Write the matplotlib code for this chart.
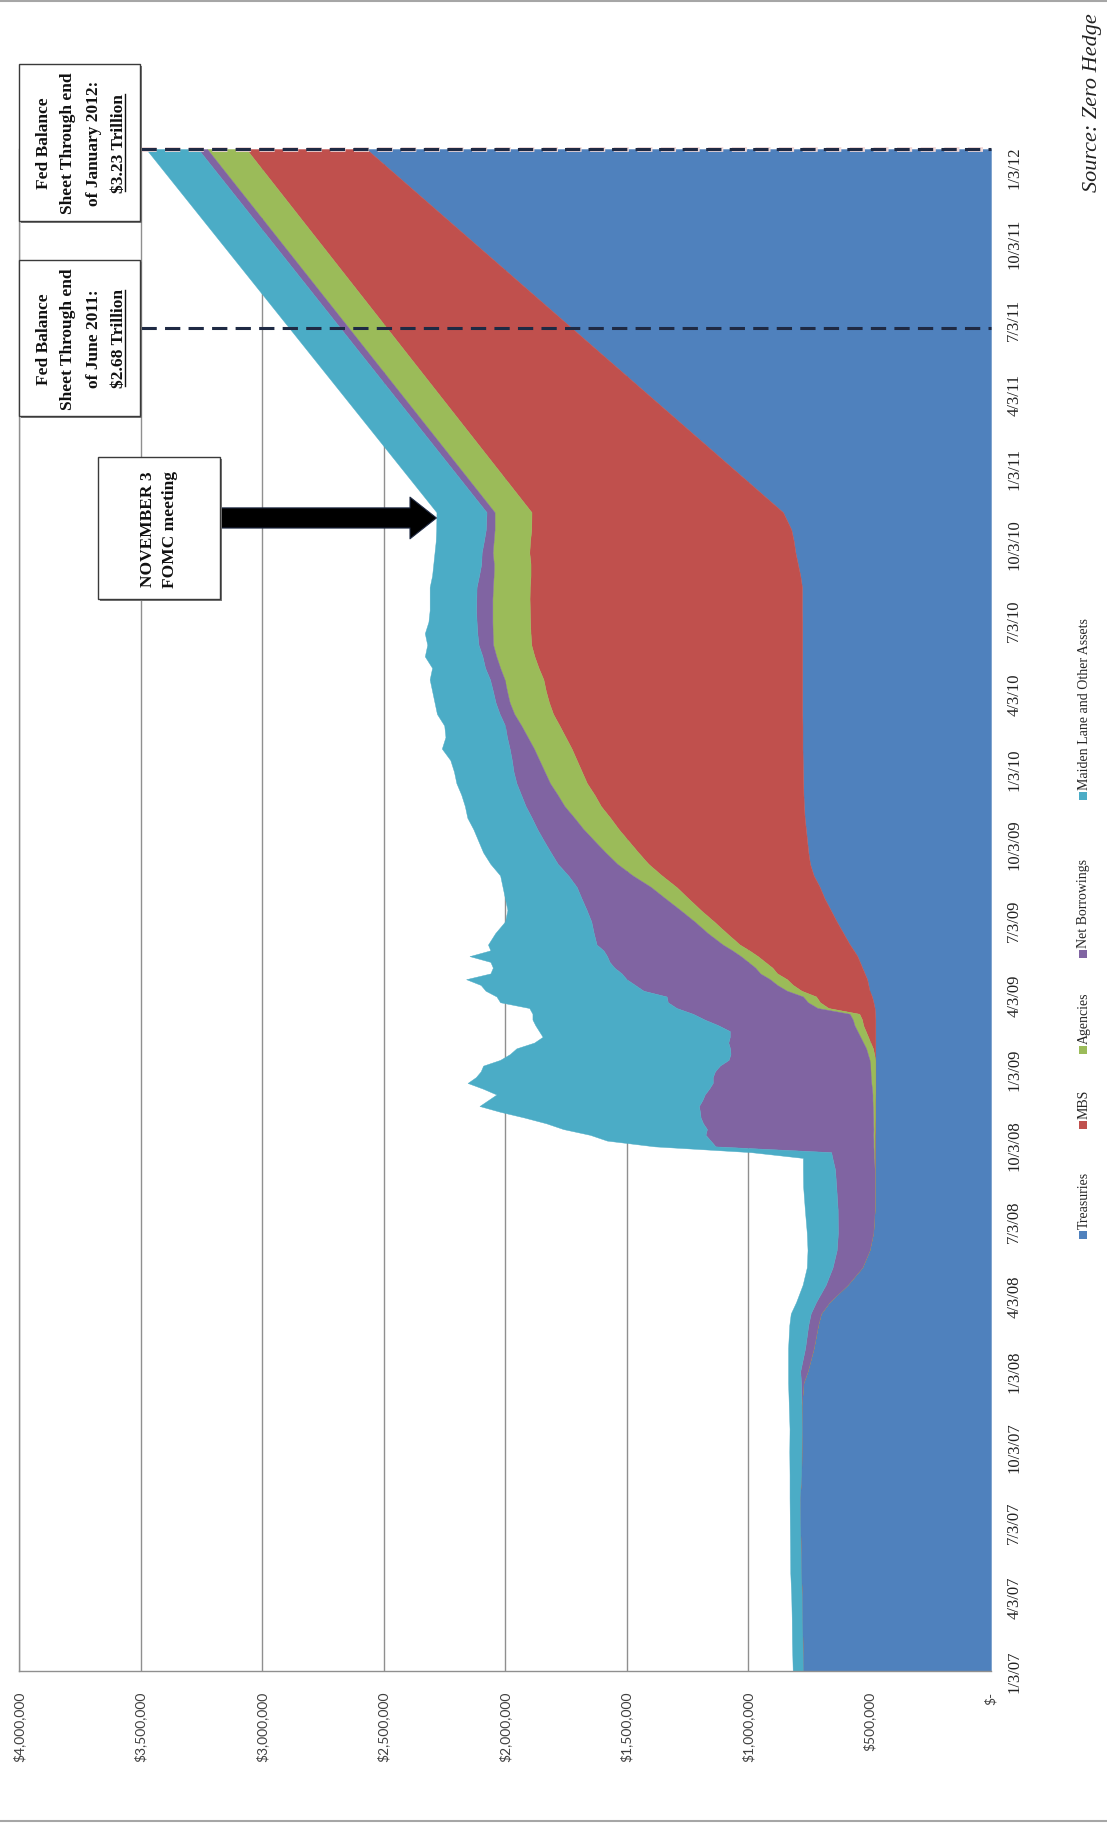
import numpy as np
import pandas as pd
import matplotlib
matplotlib.use("Agg")
import matplotlib.pyplot as plt
import matplotlib.dates as mdates
from matplotlib.patches import Rectangle
from matplotlib.lines import Line2D
from matplotlib.transforms import blended_transform_factory

# Fed H.4.1 asset mix, $ millions (Wednesday levels); last actual week 11/10/10,
# then a straight-line path out to the end of January 2012
dates = ["2007-01-03", "2007-02-07", "2007-03-07", "2007-04-04", "2007-05-02", "2007-06-06",
         "2007-07-04", "2007-08-01", "2007-08-29", "2007-09-26", "2007-10-24", "2007-11-21",
         "2007-12-19", "2008-01-02", "2008-01-30", "2008-02-27", "2008-03-12", "2008-03-26",
         "2008-04-16", "2008-05-07", "2008-05-28", "2008-06-18", "2008-07-16", "2008-08-13",
         "2008-09-03", "2008-09-17", "2008-09-24", "2008-10-01", "2008-10-08", "2008-10-15",
         "2008-10-22", "2008-10-29", "2008-11-05", "2008-11-12", "2008-11-19", "2008-11-26",
         "2008-12-03", "2008-12-10", "2008-12-17", "2008-12-24", "2008-12-31", "2009-01-07",
         "2009-01-14", "2009-01-21", "2009-01-28", "2009-02-04", "2009-02-11", "2009-02-18",
         "2009-02-25", "2009-03-04", "2009-03-11", "2009-03-18", "2009-03-25", "2009-04-01",
         "2009-04-08", "2009-04-15", "2009-04-22", "2009-04-29", "2009-05-06", "2009-05-13",
         "2009-05-20", "2009-05-27", "2009-06-03", "2009-06-17", "2009-07-01", "2009-07-15",
         "2009-07-29", "2009-08-12", "2009-08-26", "2009-09-09", "2009-09-23", "2009-10-07",
         "2009-10-21", "2009-11-04", "2009-11-18", "2009-12-02", "2009-12-16", "2009-12-30",
         "2010-01-13", "2010-01-27", "2010-02-10", "2010-02-24", "2010-03-10", "2010-03-24",
         "2010-04-07", "2010-04-21", "2010-05-05", "2010-05-19", "2010-06-02", "2010-06-16",
         "2010-06-30", "2010-07-14", "2010-07-28", "2010-08-11", "2010-08-25", "2010-09-08",
         "2010-09-22", "2010-10-06", "2010-10-20", "2010-11-10", "2012-01-25"]

treasuries = [774000, 776000, 778000, 779000, 782000, 784000, 786000, 787000, 781000, 780000,
              779000, 780000, 772000, 755000, 730000, 712000, 700000, 665000, 590000, 530000,
              500000, 485000, 479000, 479000, 479000, 479000, 479000, 479000, 479000, 479000,
              478000, 478000, 477000, 477000, 477000, 477000, 476000, 476000, 476000, 476000,
              476000, 476000, 476000, 476000, 476000, 476000, 476000, 476000, 476000, 476000,
              477000, 479000, 484000, 490000, 500000, 505000, 510000, 520000, 530000, 540000,
              550000, 565000, 581000, 608000, 635000, 660000, 685000, 705000, 730000, 745000,
              752000, 757000, 762000, 767000, 770000, 772000, 773000, 774000, 775000, 776000,
              776000, 776000, 777000, 777000, 777000, 777000, 777000, 777000, 777000, 777000,
              777000, 778000, 778000, 778000, 785000, 795000, 805000, 812000, 822000, 856000,
              2570000]

mbs = [0, 0, 0, 0, 0, 0, 0, 0, 0, 0,
       0, 0, 0, 0, 0, 0, 0, 0, 0, 0,
       0, 0, 0, 0, 0, 0, 0, 0, 0, 0,
       0, 0, 0, 0, 0, 0, 0, 0, 0, 0,
       0, 0, 0, 5000, 10000, 20000, 30000, 40000, 50000, 55000,
       65000, 190000, 220000, 230000, 280000, 310000, 330000, 360000, 370000, 390000,
       410000, 430000, 453000, 480000, 505000, 535000, 560000, 590000, 625000, 665000,
       700000, 735000, 770000, 800000, 835000, 860000, 890000, 910000, 930000, 950000,
       975000, 1000000, 1025000, 1042000, 1055000, 1065000, 1085000, 1102000, 1115000, 1118000,
       1120000, 1120000, 1121000, 1120000, 1110000, 1100000, 1095000, 1085000, 1070000, 1035000,
       495000]

agencies = [0, 0, 0, 0, 0, 0, 0, 0, 0, 0,
            0, 0, 0, 0, 0, 0, 0, 0, 0, 0,
            0, 0, 0, 0, 0, 4000, 4000, 5000, 5000, 6000,
            6000, 7000, 8000, 9000, 10000, 11000, 12000, 14000, 17000, 19000,
            20000, 22000, 24000, 26000, 28000, 30000, 32000, 34000, 36000, 38000,
            40000, 45000, 50000, 54000, 60000, 65000, 70000, 70000, 70000, 70000,
            70000, 70000, 70000, 78000, 80000, 84000, 95000, 105000, 120000, 128000,
            135000, 140000, 145000, 148000, 150000, 152000, 152000, 153000, 154000, 155000,
            156000, 157000, 160000, 162000, 160000, 160000, 158000, 157000, 157000, 156000,
            155000, 154000, 153000, 152000, 152000, 151000, 151000, 150000, 151000, 152000,
            161000]

net_borrowings = [0, 0, 0, 0, 0, 0, 0, 0, 0, 0,
                  0, 0, 10000, 30000, 35000, 40000, 42000, 55000, 90000, 122000,
                  135000, 145000, 152000, 158000, 163000, 170000, 175000, 650000, 670000, 690000,
                  685000, 700000, 710000, 712000, 715000, 700000, 690000, 670000, 652000, 650000,
                  640000, 618000, 580000, 565000, 560000, 555000, 537000, 525000, 560000, 610000,
                  645000, 580000, 576000, 561000, 590000, 585000, 590000, 570000, 580000, 570000,
                  550000, 530000, 519000, 469000, 425000, 385000, 345000, 305000, 265000, 245000,
                  225000, 208000, 190000, 175000, 160000, 150000, 138000, 128000, 113000, 100000,
                  85000, 67000, 60000, 58000, 58000, 60000, 62000, 57000, 60000, 63000,
                  65000, 67000, 66000, 67000, 60000, 52000, 45000, 40000, 36000, 33000,
                  37000]

maiden_lane = [42000, 43000, 42000, 43000, 44000, 43000, 42000, 42000, 48000, 50000,
               50000, 52000, 53000, 50000, 70000, 78000, 82000, 82000, 95000, 106000,
               120000, 128000, 135000, 136000, 132000, 121000, 330000, 250000, 426000, 475000,
               591000, 645000, 725000, 822000, 903000, 882000, 857000, 930000, 1009000, 975000,
               964000, 974000, 940000, 908000, 879000, 799000, 770000, 785000, 753000, 708000,
               660000, 606000, 690000, 700000, 650000, 635000, 660000, 540000, 500000, 490000,
               566000, 465000, 447000, 405000, 355000, 326000, 315000, 305000, 280000, 277000,
               278000, 270000, 263000, 265000, 250000, 246000, 247000, 245000, 253000, 279000,
               253000, 250000, 258000, 251000, 250000, 248000, 218000, 237000, 211000, 216000,
               198000, 191000, 192000, 193000, 193000, 197000, 194000, 198000, 204000, 206000,
               214000]

series_names = ["Treasuries", "MBS", "Agencies", "Net Borrowings", "Maiden Lane and Other Assets"]
series_colors = ["#4F81BD", "#C0504D", "#9BBB59", "#8064A2", "#4BACC6"]

value_ticks = [0, 500000, 1000000, 1500000, 2000000, 2500000, 3000000, 3500000, 4000000]
value_labels = ["$-", "$500,000", "$1,000,000", "$1,500,000", "$2,000,000",
                "$2,500,000", "$3,000,000", "$3,500,000", "$4,000,000"]

date_labels = ["1/3/07", "4/3/07", "7/3/07", "10/3/07", "1/3/08", "4/3/08", "7/3/08",
               "10/3/08", "1/3/09", "4/3/09", "7/3/09", "10/3/09", "1/3/10", "4/3/10",
               "7/3/10", "10/3/10", "1/3/11", "4/3/11", "7/3/11", "10/3/11", "1/3/12"]

june_2011 = "2011-06-22"
fomc_date = "2010-11-03"

W, H = 1107, 1824


def fx(px):
    return px / W


def fy(py):
    # pixel rows counted from the top
    return 1 - py / H


fig = plt.figure(figsize=(W / 100, H / 100), dpi=100)
fig.patch.set_facecolor("white")
ax = fig.add_axes([fx(19), fy(1672), fx(991) - fx(19), fy(150) - fy(1672)])

yd = mdates.date2num(pd.to_datetime(dates))
layers = [np.array(v, dtype=float) for v in
          (treasuries, mbs, agencies, net_borrowings, maiden_lane)]

base = np.zeros(len(yd))
for vals, col in zip(layers, series_colors):
    top = base + vals
    ax.fill_betweenx(yd, base, top, facecolor=col, edgecolor=col, lw=0.3, zorder=2)
    base = top
total = base

ax.set_xlim(4000000, 0)
ax.set_ylim(yd[0], yd[-1])

ax.set_axisbelow(True)
ax.grid(axis="x", color="#8f8f8f", lw=1.0)
ax.grid(axis="y", visible=False)
for side in ["top", "right"]:
    ax.spines[side].set_visible(False)
for side in ["bottom", "left"]:
    ax.spines[side].set_color("#8f8f8f")
    ax.spines[side].set_linewidth(1.0)

ax.set_xticks(value_ticks)
ax.set_xticklabels(value_labels, rotation=90, fontfamily="Lato", fontsize=10, color="#404040")
ax.tick_params(axis="x", length=0, pad=14.4)

tick_dates = mdates.date2num(pd.to_datetime(date_labels, format="%m/%d/%y"))
ax.yaxis.tick_right()
ax.set_yticks(tick_dates)
ax.set_yticklabels(date_labels, rotation=90, va="center", fontfamily="Liberation Serif",
                   fontsize=12, color="#222222")
ax.tick_params(axis="y", length=0, pad=11)

# dashed markers for end of June 2011 and end of January 2012
jan_line = yd[-1]
ax.plot([3500000, 0], [jan_line, jan_line], color="#f0d8d8", lw=3.4, dashes=(3.2, 1.8),
        zorder=3, clip_on=False)
for d in [mdates.date2num(pd.Timestamp(june_2011)), jan_line]:
    ax.plot([3500000, 0], [d, d], color="#1f2a44", lw=2.2, dashes=(5, 2.7),
            zorder=4, clip_on=False)

# annotation boxes
serif_bold = dict(fontfamily="Liberation Serif", fontweight="bold", fontsize=12.5,
                  color="#111111", rotation=90, ha="center", va="center")


def draw_box(x0, y0, x1, y1):
    fig.add_artist(Rectangle((fx(x0 + 2), fy(y1 + 2)), fx(x1 - x0), fy(y0) - fy(y1),
                             transform=fig.transFigure, facecolor="#7a7a7a",
                             edgecolor="none", zorder=5))
    fig.add_artist(Rectangle((fx(x0), fy(y1)), fx(x1 - x0), fy(y0) - fy(y1),
                             transform=fig.transFigure, facecolor="white",
                             edgecolor="#3a3a3a", lw=1.0, zorder=6))


underlined = []
boxes = [((19, 65, 140, 222), ["Fed Balance", "Sheet Through end", "of January 2012:", "$3.23 Trillion"]),
         ((19, 261, 140, 417), ["Fed Balance", "Sheet Through end", "of June 2011:", "$2.68 Trillion"])]
for (x0, y0, x1, y1), lines in boxes:
    draw_box(x0, y0, x1, y1)
    cy = (y0 + y1) / 2
    for i, line in enumerate(lines):
        t = fig.text(fx(81 + (i - 1.5) * 25), fy(cy), line, zorder=7, **serif_bold)
    underlined.append(t)

draw_box(98, 458, 220, 600)
for i, line in enumerate(["NOVEMBER 3", "FOMC meeting"]):
    fig.text(fx(159 + (i - 0.5) * 23), fy(529), line, zorder=7, **serif_bold)

# arrow from the FOMC box to the top of the stack on the meeting date
fomc = mdates.date2num(pd.Timestamp(fomc_date))
tip = np.interp(fomc, yd, total)
ax.annotate("", xy=(tip, fomc), xycoords="data",
            xytext=(fx(220), fomc), textcoords=blended_transform_factory(fig.transFigure, ax.transData),
            arrowprops=dict(arrowstyle="simple,head_length=1.9,head_width=3.0,tail_width=1.45",
                            mutation_scale=10, fc="black", ec="#1f2a44", lw=0.8,
                            shrinkA=0, shrinkB=0),
            zorder=8, annotation_clip=False)

# legend, laid out down the right edge
legend_marks = [1236, 1126, 1051, 955, 797]
for name, col, my in zip(series_names, series_colors, legend_marks):
    fig.add_artist(Rectangle((fx(1079), fy(my + 4)), fx(8), fy(my - 4) - fy(my + 4),
                             transform=fig.transFigure, facecolor=col, edgecolor="none"))
    fig.text(fx(1084), fy(my - 7), name, rotation=90, ha="center", va="bottom",
             fontfamily="Liberation Serif", fontsize=10, color="#262626")

fig.text(fx(1093), fy(13), "Source: Zero Hedge", rotation=90, ha="center", va="top",
         fontfamily="Liberation Serif", style="italic", fontsize=16, color="#222222")

# chart frame lines
for py in [1.5, 1821.5]:
    fig.add_artist(Line2D([0, 1], [fy(py), fy(py)], transform=fig.transFigure,
                          color="#a6a6a6", lw=1.5))

# underline the trillion figures
fig.canvas.draw()
rend = fig.canvas.get_renderer()
for t in underlined:
    bb = t.get_window_extent(rend).transformed(fig.transFigure.inverted())
    ux = bb.x1 - fx(1.5)
    fig.add_artist(Line2D([ux, ux], [bb.y0 + fy(0) - fy(1), bb.y1 - (fy(0) - fy(1))],
                          transform=fig.transFigure, color="#111111", lw=1.0, zorder=8))

fig.savefig("out.png", dpi=100)
